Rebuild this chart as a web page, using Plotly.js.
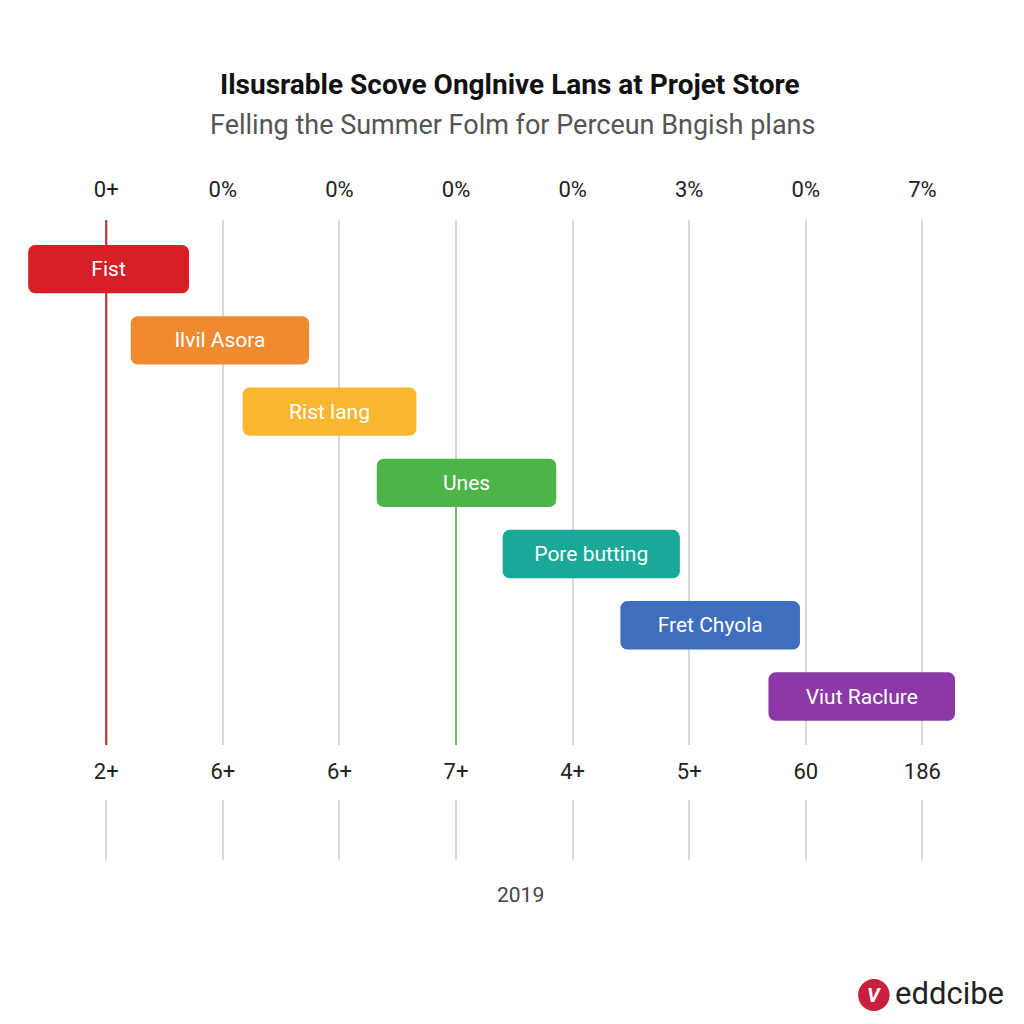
<!DOCTYPE html>
<html>
<head>
<meta charset="utf-8">
<script src="https://cdn.plot.ly/plotly-3.0.1.min.js"></script>
<style>html,body{margin:0;padding:0;background:#fff;}#chart{width:1024px;height:1024px;}</style>
</head>
<body>
<div id="chart"></div>
<script>
// ---- data ----
const taskLabels = ["Fist", "Ilvil Asora", "Rist lang", "Unes", "Pore butting", "Fret Chyola", "Viut Raclure"];
const taskStart  = [-0.67, 0.21, 1.17, 2.32, 3.40, 4.41, 5.68];
const taskEnd    = [0.71, 1.74, 2.66, 3.86, 4.92, 5.95, 7.28];
const taskColors = ["#d71f27", "#f08a30", "#f8b72f", "#4db449", "#1aa899", "#3e6ebd", "#8c38a6"];
const tickPositions = [0, 1, 2, 3, 4, 5, 6, 7];
const topTickLabels = ["0+", "0%", "0%", "0%", "0%", "3%", "0%", "7%"];
const bottomTickLabels = ["2+", "6+", "6+", "7+", "4+", "5+", "60", "186"];
const yearLabel = "2019";

const rowIndex = taskLabels.map((_, i) => i);
const durations = taskStart.map((s, i) => taskEnd[i] - s);

const traces = [
  {
    type: "bar", orientation: "h",
    x: durations, base: taskStart, y: rowIndex,
    width: 0.68,
    marker: {color: taskColors, cornerradius: 7, line: {width: 0}},
    text: taskLabels, textposition: "inside", insidetextanchor: "middle",
    textfont: {family: "Roboto, Arial, sans-serif", size: 21, color: "#ffffff"},
    constraintext: "none",
    hoverinfo: "skip", showlegend: false, xaxis: "x", yaxis: "y"
  },
  { // helper for bottom tick label axis
    type: "scatter", mode: "markers", x: tickPositions, y: tickPositions.map(() => 0),
    marker: {opacity: 0}, hoverinfo: "skip", showlegend: false, xaxis: "x3", yaxis: "y"
  },
  { // helper for lower grid strip
    type: "scatter", mode: "markers", x: tickPositions, y: tickPositions.map(() => 0),
    marker: {opacity: 0}, hoverinfo: "skip", showlegend: false, xaxis: "x2", yaxis: "y2"
  }
];

const tickFont = {family: "Roboto, Arial, sans-serif", size: 22, color: "#222"};
const xr = [-0.8, 7.4];

const layout = {
  width: 1024, height: 1024,
  paper_bgcolor: "#ffffff", plot_bgcolor: "rgba(0,0,0,0)",
  margin: {l: 13, r: 55, t: 220, b: 164},
  showlegend: false,
  xaxis: {
    range: xr, side: "top", anchor: "y",
    tickmode: "array", tickvals: tickPositions, ticktext: topTickLabels,
    tickfont: tickFont, ticks: "", ticklabelstandoff: 18,
    showgrid: true, gridcolor: "#d9d9d9", gridwidth: 2,
    zeroline: false, showline: false, fixedrange: true
  },
  xaxis3: {
    range: xr, matches: "x", overlaying: "x", side: "bottom", anchor: "y",
    tickmode: "array", tickvals: tickPositions, ticktext: bottomTickLabels,
    tickfont: tickFont, ticks: "", ticklabelstandoff: 11,
    showgrid: false, zeroline: false, showline: false
  },
  xaxis2: {
    range: xr, matches: "x", anchor: "y2",
    tickmode: "array", tickvals: tickPositions, showticklabels: false, ticks: "",
    showgrid: true, gridcolor: "#d9d9d9", gridwidth: 2,
    zeroline: false, showline: false
  },
  yaxis: {
    domain: [0.1797, 1], range: [6.68, -0.69],
    showgrid: false, zeroline: false, showticklabels: false, ticks: "", showline: false
  },
  yaxis2: {
    domain: [0, 0.09375], range: [0, 1],
    showgrid: false, zeroline: false, showticklabels: false, ticks: "", showline: false
  },
  shapes: [
    {type: "line", layer: "between", xref: "x", yref: "y",
     x0: tickPositions[0], x1: tickPositions[0], y0: -0.69, y1: 6.68,
     line: {color: "#c1272d", width: 2}},
    {type: "line", layer: "between", xref: "x", yref: "y",
     x0: tickPositions[3], x1: tickPositions[3], y0: 3.34, y1: 6.68,
     line: {color: "#6cbd68", width: 2}},
    {type: "circle", xref: "paper", yref: "paper", layer: "above",
     x0: 0.884, x1: 0.917, y0: -0.186, y1: -0.236,
     fillcolor: "#c8203c", line: {width: 0}}
  ],
  annotations: [
    {text: "<b>Ilsusrable Scove Onglnive Lans at Projet Store</b>", xref: "paper", yref: "paper",
     x: 0.52, y: 1.2125, xanchor: "center", yanchor: "middle", showarrow: false,
     font: {family: "Roboto, Arial, sans-serif", size: 28, color: "#111"}},
    {text: "Felling the Summer Folm for Perceun Bngish plans", xref: "paper", yref: "paper",
     x: 0.522, y: 1.1484, xanchor: "center", yanchor: "middle", showarrow: false,
     font: {family: "Roboto, Arial, sans-serif", size: 27, color: "#555"}},
    {text: yearLabel, xref: "paper", yref: "paper",
     x: 0.531, y: -0.0547, xanchor: "center", yanchor: "middle", showarrow: false,
     font: {family: "Roboto, Arial, sans-serif", size: 21, color: "#444"}},
    {text: "<b><i>V</i></b>", xref: "paper", yref: "paper",
     x: 0.9005, y: -0.211, xanchor: "center", yanchor: "middle", showarrow: false,
     font: {family: "Roboto, Arial, sans-serif", size: 20, color: "#ffffff"}},
    {text: "eddcibe", xref: "paper", yref: "paper",
     x: 0.921, y: -0.209, xanchor: "left", yanchor: "middle", showarrow: false,
     font: {family: "Roboto, Arial, sans-serif", size: 31, color: "#222"}}
  ]
};

Plotly.newPlot("chart", traces, layout, {displayModeBar: false, staticPlot: true});
</script>
</body>
</html>
